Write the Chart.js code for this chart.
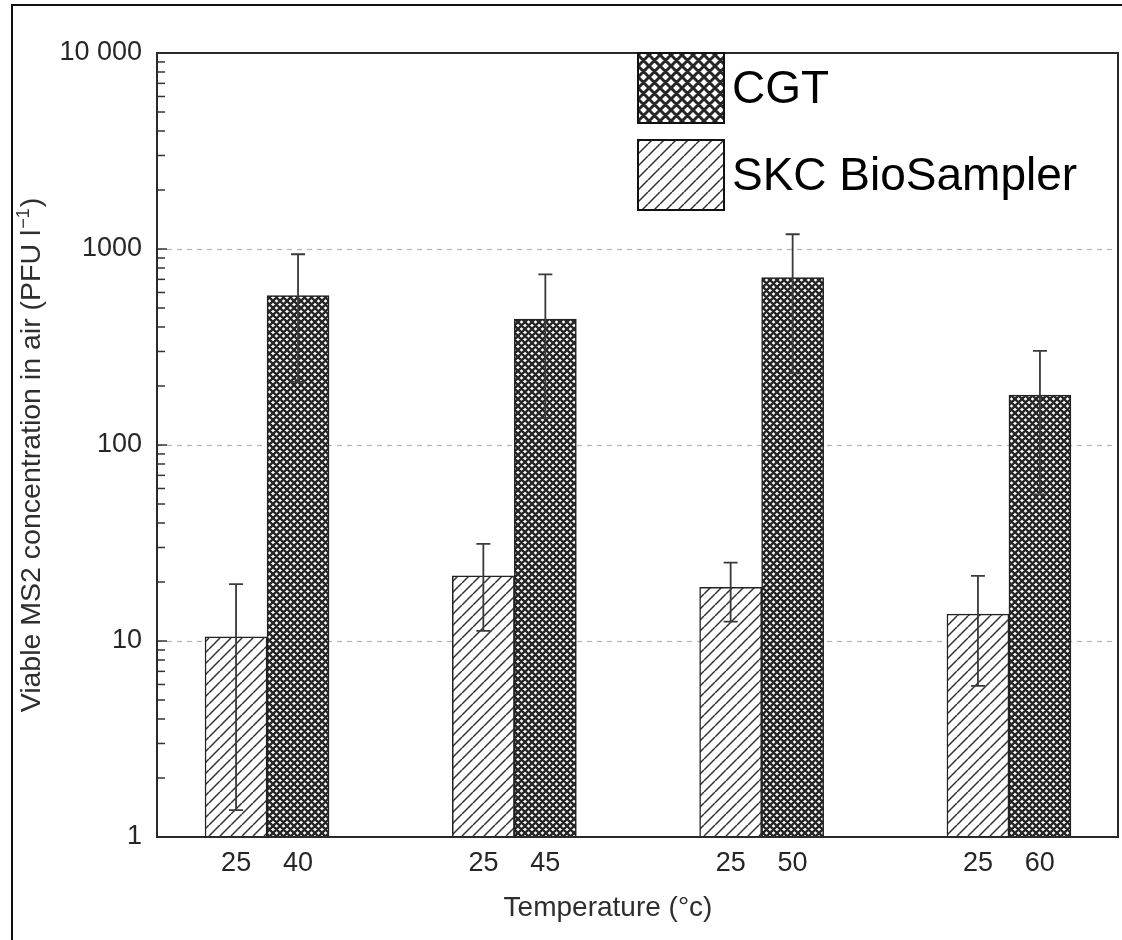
<!DOCTYPE html>
<html><head><meta charset="utf-8">
<script src="https://cdn.jsdelivr.net/npm/chart.js@4.4.1/dist/chart.umd.min.js"></script>
<style>html,body{margin:0;padding:0;background:#fff;} #wrap{width:1122px;height:940px;position:relative;}</style>
</head><body><div id="wrap"><canvas id="c" width="1122" height="940"></canvas></div>
<script>
// ---- data ----
const groupPositions = [1, 2, 3, 4];
const seriesNames = ['SKC BioSampler', 'CGT'];
const legendOrder = ['CGT', 'SKC BioSampler'];
const skcTemps = ['25', '25', '25', '25'];
const cgtTemps = ['40', '45', '50', '60'];
const skcValues = [10.5, 21.5, 18.8, 13.7];
const skcLow = [1.37, 11.25, 12.55, 5.9];
const skcHigh = [19.5, 31.3, 25.1, 21.5];
const cgtValues = [578, 439, 714, 180];
const cgtLow = [210, 137, 232, 56];
const cgtHigh = [940, 743, 1189, 302];
const yTickValues = [1, 10, 100, 1000, 10000];
const yTickLabels = ['1', '10', '100', '1000', '10 000'];
const yGridValues = [10, 100, 1000];
const xTitle = 'Temperature (\u00B0c)';
const yTitleMain = 'Viable MS2 concentration in air (PFU l';
const yTitleSup = '\u22121';
const yTitleEnd = ')';

const FONT = "'Liberation Sans', Arial, Helvetica, sans-serif";
Chart.defaults.font.family = FONT;

const canvas = document.getElementById('c');
const ctx = canvas.getContext('2d');

function crossPattern(size, lw, color) {
  const c = document.createElement('canvas'); c.width = c.height = size;
  const g = c.getContext('2d');
  g.fillStyle = '#fff'; g.fillRect(0, 0, size, size);
  g.strokeStyle = color; g.lineWidth = lw; g.beginPath();
  for (let k = -1; k <= 1; k++) {
    g.moveTo(k * size, 0); g.lineTo(k * size + size, size);
    g.moveTo(k * size, size); g.lineTo(k * size + size, 0);
  }
  g.stroke();
  return ctx.createPattern(c, 'repeat');
}
function hatchPattern(size, lw, color) {
  const c = document.createElement('canvas'); c.width = c.height = size;
  const g = c.getContext('2d');
  g.fillStyle = '#fff'; g.fillRect(0, 0, size, size);
  g.strokeStyle = color; g.lineWidth = lw; g.beginPath();
  for (let k = -1; k <= 1; k++) {
    g.moveTo(k * size, size); g.lineTo(k * size + size, 0);
  }
  g.stroke();
  return ctx.createPattern(c, 'repeat');
}
const crossFill = crossPattern(7, 2.4, '#262626');
const hatchFill = hatchPattern(11, 1.5, '#333');
const crossLegend = crossPattern(11, 3, '#262626');
const hatchLegend = hatchPattern(12, 1.5, '#333');

const xTickPos = [];
const xTickLabels = [];
groupPositions.forEach((g, i) => {
  xTickPos.push(g - 0.125); xTickLabels.push(skcTemps[i]);
  xTickPos.push(g + 0.125); xTickLabels.push(cgtTemps[i]);
});

const errors = [
  { low: skcLow, high: skcHigh },
  { low: cgtLow, high: cgtHigh }
];

const decor = {
  id: 'decor',
  beforeDraw(chart) {
    const c = chart.ctx;
    c.save(); c.fillStyle = '#fff'; c.fillRect(0, 0, chart.width, chart.height); c.restore();
  },
  beforeDatasetsDraw(chart) {
    const c = chart.ctx, a = chart.chartArea, y = chart.scales.y;
    c.save();
    c.strokeStyle = '#b4b4b4'; c.lineWidth = 1.2; c.setLineDash([5, 5]);
    yGridValues.forEach(v => {
      const py = Math.round(y.getPixelForValue(v)) + 0.5;
      c.beginPath(); c.moveTo(a.left, py); c.lineTo(a.right, py); c.stroke();
    });
    c.restore();
  },
  afterDatasetsDraw(chart) {
    const c = chart.ctx, y = chart.scales.y;
    c.save();
    c.strokeStyle = '#3a3a3a'; c.lineWidth = 1.8;
    errors.forEach((e, di) => {
      chart.getDatasetMeta(di).data.forEach((el, j) => {
        const x = el.x;
        const yh = y.getPixelForValue(e.high[j]);
        const yl = y.getPixelForValue(e.low[j]);
        c.beginPath();
        c.moveTo(x, yh); c.lineTo(x, yl);
        c.moveTo(x - 7, yh); c.lineTo(x + 7, yh);
        c.moveTo(x - 7, yl); c.lineTo(x + 7, yl);
        c.stroke();
      });
    });
    c.restore();
  },
  afterDraw(chart) {
    const c = chart.ctx, a = chart.chartArea, y = chart.scales.y;
    c.save();
    // inward log ticks
    c.strokeStyle = '#333'; c.lineWidth = 1.5;
    y.ticks.forEach(t => {
      const py = y.getPixelForValue(t.value);
      const len = yTickValues.includes(t.value) ? 10 : 8;
      c.beginPath(); c.moveTo(a.left, py); c.lineTo(a.left + len, py); c.stroke();
    });
    // plot frame
    c.strokeStyle = '#2a2a2a'; c.lineWidth = 2;
    c.strokeRect(a.left, a.top, a.right - a.left, a.bottom - a.top);
    // outer frame
    c.strokeStyle = '#111'; c.lineWidth = 2;
    c.strokeRect(12, 5, 1200, 1000);
    // x title
    c.fillStyle = '#2e2e2e'; c.font = '28px ' + FONT;
    c.textAlign = 'center'; c.textBaseline = 'alphabetic';
    c.fillText(xTitle, 608, 916);
    // y title with superscript
    c.save();
    c.translate(40, 455); c.rotate(-Math.PI / 2);
    c.textAlign = 'left';
    c.font = '28.5px ' + FONT; const w1 = c.measureText(yTitleMain).width; const w3 = c.measureText(yTitleEnd).width;
    c.font = '18px ' + FONT; const w2 = c.measureText(yTitleSup).width;
    let sx = -(w1 + w2 + w3 + 2) / 2;
    c.font = '28.5px ' + FONT; c.fillText(yTitleMain, sx, 0); sx += w1 + 1;
    c.font = '18px ' + FONT; c.fillText(yTitleSup, sx, -11); sx += w2 + 1;
    c.font = '28.5px ' + FONT; c.fillText(yTitleEnd, sx, 0);
    c.restore();
    // legend
    const fills = { 'CGT': crossLegend, 'SKC BioSampler': hatchLegend };
    const boxX = a.right - 480, boxW = 86, boxH = 70;
    c.font = '46px ' + FONT; c.textAlign = 'left'; c.textBaseline = 'middle';
    legendOrder.forEach((name, i) => {
      const by = a.top + i * 87;
      c.fillStyle = fills[name];
      c.fillRect(boxX, by, boxW, boxH);
      c.strokeStyle = '#111'; c.lineWidth = 2;
      c.strokeRect(boxX, by, boxW, boxH);
      c.fillStyle = '#000';
      c.fillText(name, boxX + 94, by + boxH / 2 + 2);
    });
    c.restore();
  }
};

new Chart(canvas, {
  type: 'bar',
  data: {
    datasets: [
      {
        label: seriesNames[0],
        data: groupPositions.map((g, i) => ({ x: g, y: skcValues[i] })),
        backgroundColor: hatchFill, borderColor: '#222', borderWidth: 1.5
      },
      {
        label: seriesNames[1],
        data: groupPositions.map((g, i) => ({ x: g, y: cgtValues[i] })),
        backgroundColor: crossFill, borderColor: '#222', borderWidth: 1.5
      }
    ]
  },
  options: {
    responsive: false,
    animation: false,
    devicePixelRatio: 1,
    layout: { padding: { top: 53, right: 4, left: 0, bottom: 0 } },
    datasets: { bar: { barThickness: 62, grouped: true } },
    plugins: { legend: { display: false }, tooltip: { enabled: false } },
    scales: {
      x: {
        type: 'linear', min: 0.555, max: 4.441, offset: false,
        grid: { display: false, offset: false, drawTicks: false },
        border: { display: false },
        afterBuildTicks: s => { s.ticks = xTickPos.map(v => ({ value: v })); },
        afterFit: s => { s.height = 103; },
        ticks: {
          autoSkip: false, maxRotation: 0, padding: 10,
          color: '#262626', font: { size: 27 },
          callback: (v, i) => xTickLabels[i]
        }
      },
      y: {
        type: 'logarithmic', min: 1, max: 10000,
        grid: { display: false, drawTicks: false },
        border: { display: false },
        afterBuildTicks: s => {
          const t = [];
          for (let e = 0; e < 4; e++) for (let m = 1; m <= 9; m++) t.push({ value: m * Math.pow(10, e) });
          t.push({ value: 10000 });
          s.ticks = t;
        },
        afterFit: s => { s.width = 157; },
        ticks: {
          autoSkip: false, padding: 15, color: '#262626', font: { size: 27 },
          callback: v => { const k = yTickValues.indexOf(v); return k >= 0 ? yTickLabels[k] : ''; }
        }
      }
    }
  },
  plugins: [decor]
});
</script>
</body></html>
